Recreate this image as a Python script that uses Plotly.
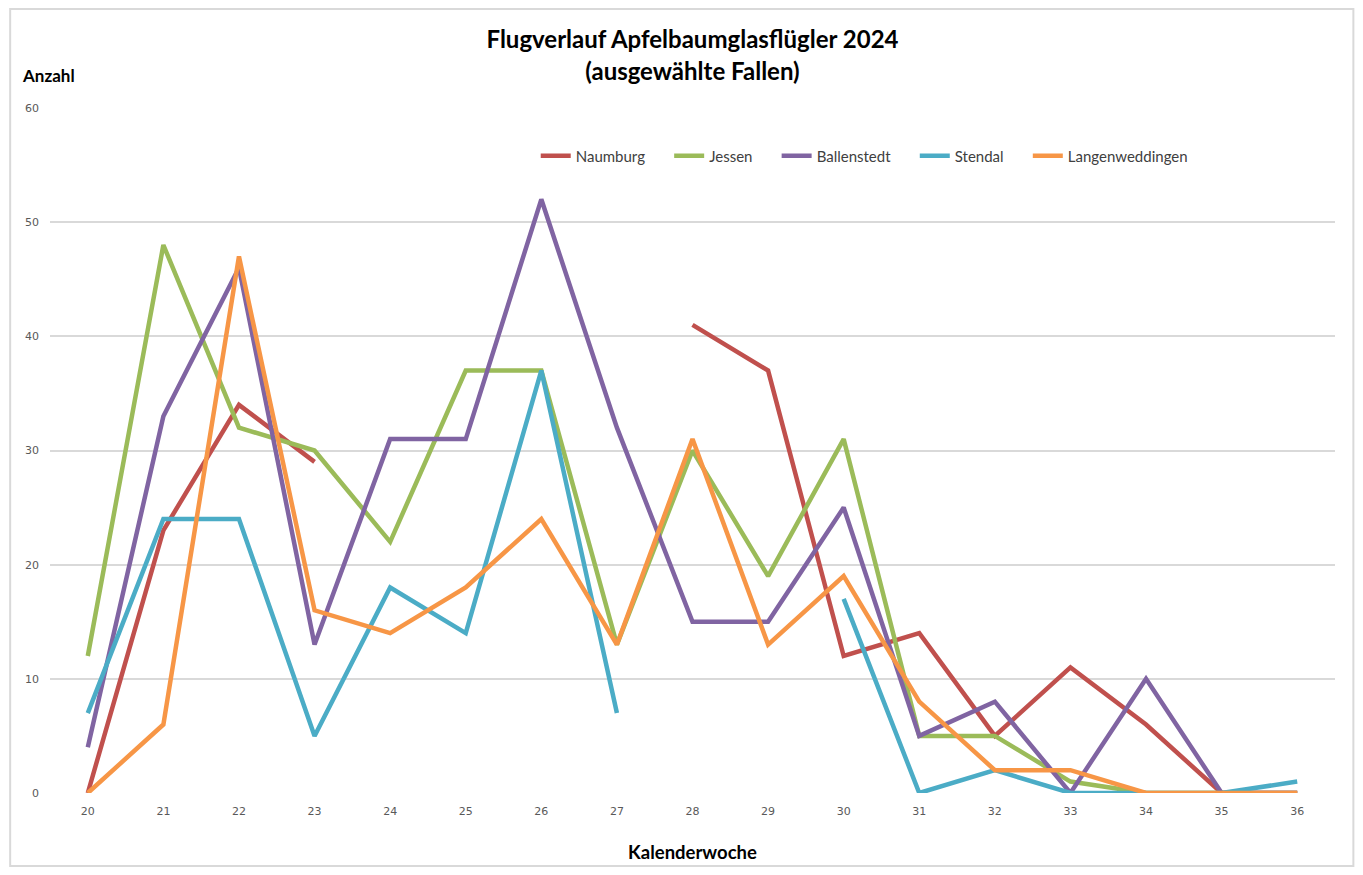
import plotly.graph_objects as go

weeks = list(range(20, 37))

naumburg = [0, 23, 34, 29, None, None, None, None, 41, 37, 12, 14, 5, 11, 6, 0, 0]
jessen = [12, 48, 32, 30, 22, 37, 37, 13, 30, 19, 31, 5, 5, 1, 0, 0, 0]
ballenstedt = [4, 33, 46, 13, 31, 31, 52, 32, 15, 15, 25, 5, 8, 0, 10, 0, 0]
stendal = [7, 24, 24, 5, 18, 14, 37, 7, None, None, 17, 0, 2, 0, 0, 0, 1]
langenweddingen = [0, 6, 47, 16, 14, 18, 24, 13, 31, 13, 19, 8, 2, 2, 0, 0, 0]

series = [
    ("Naumburg", naumburg, "#C0504D"),
    ("Jessen", jessen, "#9BBB59"),
    ("Ballenstedt", ballenstedt, "#8064A2"),
    ("Stendal", stendal, "#4BACC6"),
    ("Langenweddingen", langenweddingen, "#F79646"),
]

txtfont = "Lato, Roboto, sans-serif"
pad = "\u00a0" * 5  # extra room between legend entries

fig = go.Figure()
for name, vals, col in series:
    fig.add_trace(go.Scatter(x=weeks, y=vals, name=name + pad, mode="lines",
                             line=dict(color=col, width=4.5),
                             hovertemplate=name + ": %{y}<extra></extra>",
                             connectgaps=False, cliponaxis=False))

fig.update_layout(
    width=1347, height=859,
    paper_bgcolor="white", plot_bgcolor="white",
    margin=dict(l=42, r=20, t=100, b=74),
    title=dict(text="<b>Flugverlauf Apfelbaumglasflügler 2024<br>(ausgewählte Fallen)</b>",
               x=0.5, xref="paper", y=0.953, yanchor="middle",
               font=dict(family=txtfont, size=24, color="black")),
    legend=dict(orientation="h", x=0.378, y=0.93, xanchor="left", yanchor="middle",
                font=dict(family=txtfont, size=15, color="#404040"),
                bgcolor="rgba(0,0,0,0)"),
    xaxis=dict(range=[19.5, 36.5], tickmode="array", tickvals=weeks,
               showgrid=False, zeroline=False, showline=False, ticks="",
               ticklabelstandoff=10, automargin=False,
               tickfont=dict(family="DejaVu Sans", size=11, color="#595959"),
               title=dict(text="<b>Kalenderwoche</b>", standoff=29,
                          font=dict(family=txtfont, size=18.5, color="black"))),
    yaxis=dict(range=[0, 60], dtick=10, showgrid=True, gridcolor="#D9D9D9",
               gridwidth=2, zeroline=False, showline=False, ticks="",
               ticklabelstandoff=10, automargin=False,
               tickfont=dict(family="DejaVu Sans", size=11, color="#595959")),
    annotations=[dict(text="<b>Anzahl</b>", xref="paper", yref="paper",
                      x=-0.0233, y=1.048, xanchor="left", yanchor="middle",
                      showarrow=False,
                      font=dict(family=txtfont, size=17, color="black"))],
    shapes=[dict(type="rect", xref="paper", yref="paper",
                 x0=-0.031, x1=1.0143, y0=-0.1065, y1=1.1445,
                 line=dict(color="#D9D9D9", width=2))],
)

fig.write_html("out.html")
